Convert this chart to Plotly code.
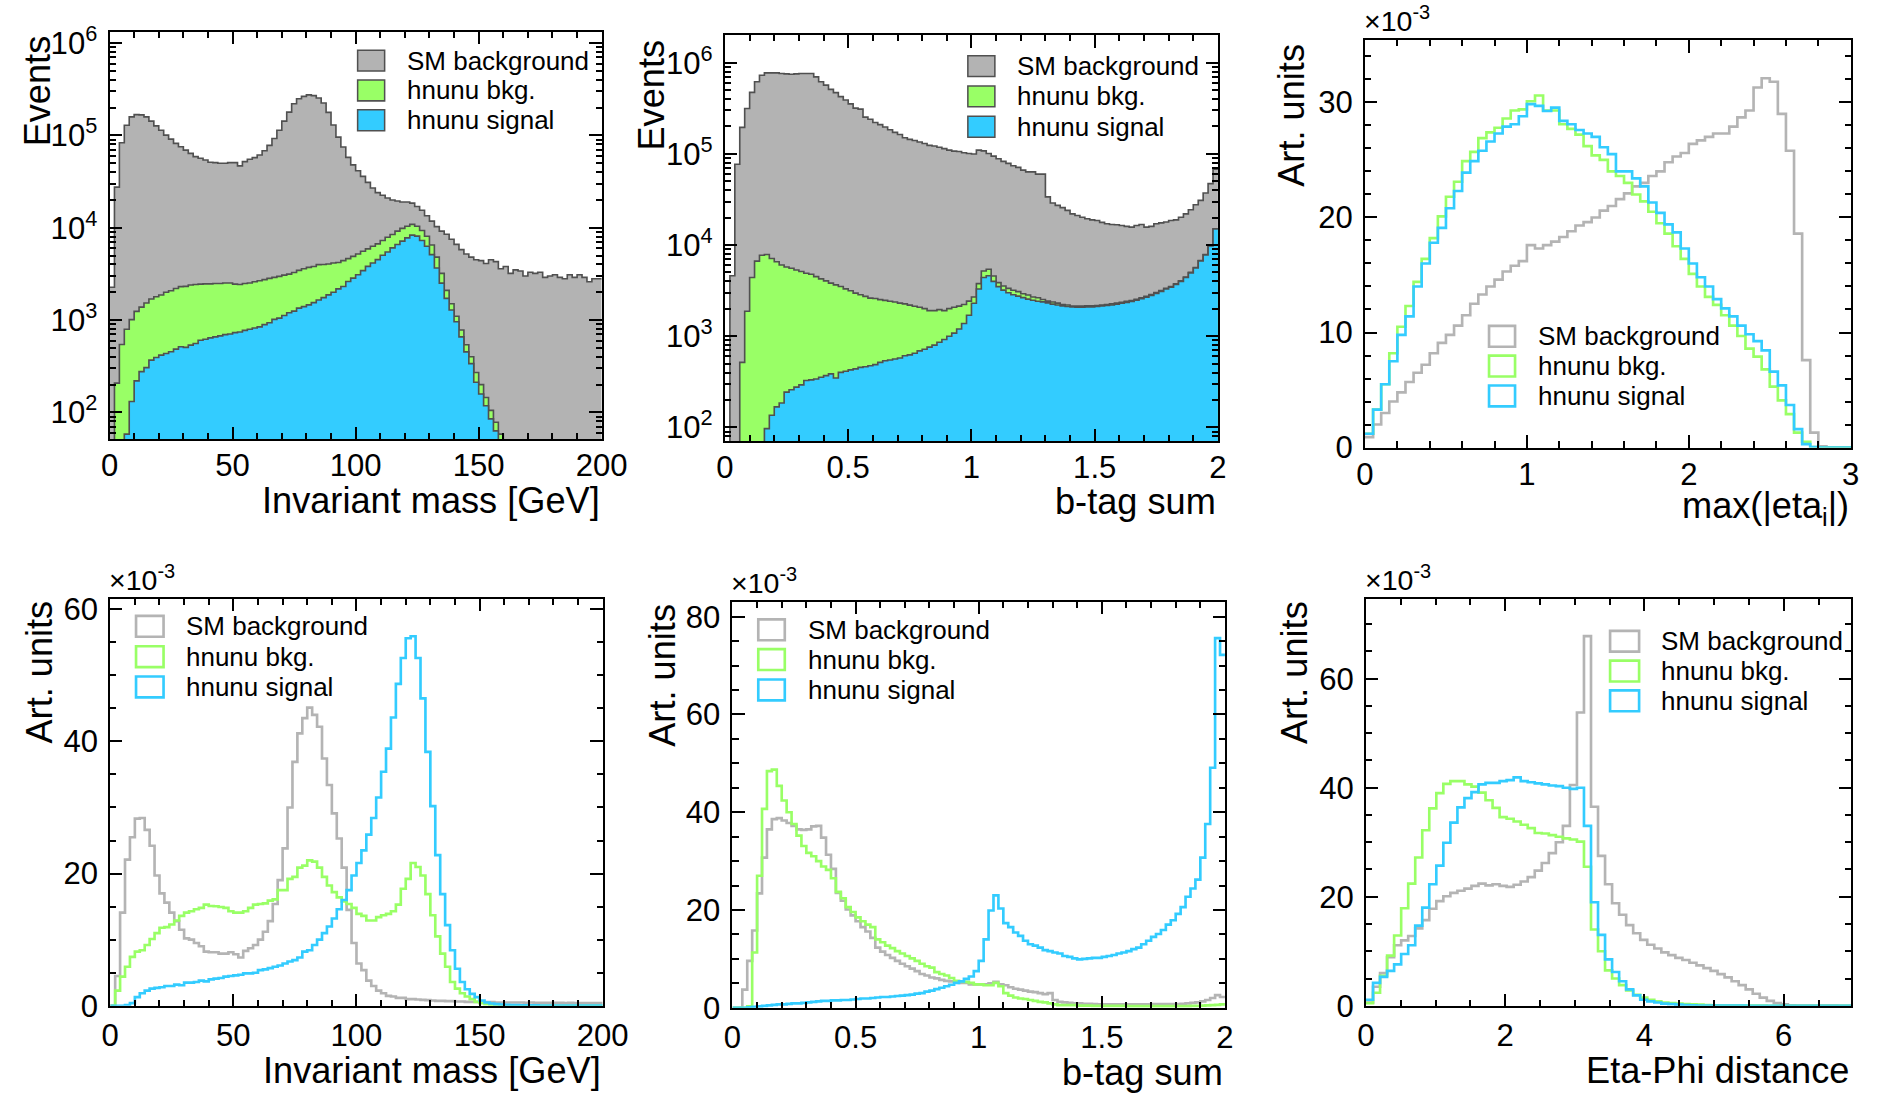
import numpy as np
import plotly.graph_objects as go

W, H = 1878, 1095
FONT = "Liberation Sans, Arial, Helvetica, sans-serif"

# ------------------------------------------------------------------ data
series_names = ["SM background", "hnunu bkg.", "hnunu signal"]

# Panel 1: stacked event counts vs invariant mass (100 bins, 0-200 GeV)
mass_range = (0, 200)
mass_stack_total = [2270, 27600, 83400, 129000, 159000, 168000, 167000, 159000, 143000, 127000,
                    114000, 101000, 91400, 82100, 75500, 69500, 64000, 59000, 56600, 54300,
                    51300, 50800, 50000, 50000, 50800, 50800, 46800, 52100, 55200, 57500,
                    61500, 68400, 78000, 92800, 114000, 143000, 179000, 221000, 250000, 265000,
                    275000, 270000, 255000, 225000, 178000, 130000, 96000, 75000, 58000, 48000,
                    41500, 36000, 31000, 27000, 24000, 22500, 21000, 20000, 19500, 19000,
                    19000, 18500, 17000, 15500, 13500, 11800, 10300, 9200, 8500, 7500,
                    6600, 5800, 5200, 4800, 4500, 4400, 4100, 4500, 4300, 3600,
                    3800, 3200, 3500, 3400, 3000, 3300, 3200, 3300, 2900, 3000,
                    3100, 2900, 2800, 3100, 2900, 3100, 2900, 2600, 2800, 2800]
mass_stack_hnunu = [0, 207, 543, 795, 1010, 1240, 1380, 1530, 1690, 1790,
                    1870, 2000, 2080, 2200, 2300, 2320, 2400, 2430, 2450, 2470,
                    2470, 2490, 2490, 2520, 2520, 2450, 2430, 2490, 2520, 2600,
                    2670, 2740, 2830, 2900, 2970, 3070, 3150, 3280, 3450, 3600,
                    3720, 3800, 3990, 4000, 4050, 4150, 4200, 4400, 4630, 4900,
                    5200, 5560, 5900, 6300, 6700, 7280, 7900, 8450, 9200, 9840,
                    10400, 10900, 10400, 9340, 8100, 6500, 4800, 3200, 2100, 1500,
                    1100, 780, 540, 400, 270, 200, 145, 105, 78, 58,
                    0, 0, 0, 0, 0, 0, 0, 0, 0, 0,
                    0, 0, 0, 0, 0, 0, 0, 0, 0, 0]
mass_stack_signal = [0, 0, 0, 58, 131, 219, 276, 305, 368, 393,
                     417, 434, 453, 484, 513, 505, 535, 557, 604, 620,
                     641, 657, 673, 696, 706, 731, 742, 774, 795, 820,
                     843, 891, 936, 1016, 1050, 1122, 1200, 1250, 1345, 1400,
                     1460, 1545, 1650, 1750, 1875, 2000, 2180, 2310, 2620, 2850,
                     3100, 3430, 3820, 4150, 4520, 5040, 5470, 6060, 6580, 7160,
                     7780, 8320, 8110, 7280, 6310, 5120, 3660, 2510, 1720, 1285,
                     960, 658, 452, 337, 212, 158, 118, 85, 63, 0,
                     0, 0, 0, 0, 0, 0, 0, 0, 0, 0,
                     0, 0, 0, 0, 0, 0, 0, 0, 0, 0]

# Panel 2: stacked event counts vs b-tag sum (100 bins, 0-2)
btag_range = (0, 2)
btag_stack_total = [0, 4600, 77000, 195000, 314000, 472000, 617000, 728000, 772000, 772000,
                    772000, 760000, 753000, 747000, 753000, 760000, 760000, 760000, 698000, 617000,
                    568000, 509000, 469000, 424000, 390000, 353000, 317000, 309000, 253000, 240000,
                    221000, 209000, 197000, 184000, 172000, 163000, 150000, 144000, 140000, 135000,
                    130000, 124000, 122000, 118000, 114000, 110000, 107000, 106000, 103000, 101000,
                    99600, 110000, 108000, 101000, 94600, 88500, 82700, 78600, 74000, 71000,
                    66300, 63500, 63500, 59900, 59900, 33700, 28900, 27200, 25700, 24000,
                    22000, 21100, 20200, 19400, 18900, 18600, 17700, 17100, 16800, 16700,
                    16400, 16000, 15700, 16400, 16800, 15700, 16000, 17100, 17500, 17900,
                    18600, 18900, 20200, 22000, 24400, 27700, 30900, 37200, 47200, 67900]
btag_stack_hnunu = [0, 0, 0, 516, 1880, 4400, 6670, 7740, 7880, 7130,
                    6560, 6040, 5740, 5560, 5330, 5120, 4900, 4780, 4510, 4260,
                    4050, 3820, 3660, 3510, 3310, 3150, 2970, 2850, 2740, 2620,
                    2590, 2520, 2470, 2420, 2370, 2310, 2260, 2190, 2130, 2080,
                    2010, 1910, 1910, 1960, 1910, 2010, 2080, 2140, 2230, 2430,
                    2690, 3770, 5200, 5430, 4580, 3870, 3550, 3350, 3190, 3080,
                    2920, 2830, 2690, 2640, 2530, 2430, 2370, 2310, 2230, 2200,
                    2140, 2140, 2140, 2150, 2150, 2170, 2200, 2230, 2260, 2310,
                    2360, 2410, 2460, 2540, 2640, 2740, 2860, 3010, 3160, 3360,
                    3510, 3760, 4060, 4460, 5010, 5660, 6760, 7860, 9860, 15100]
btag_stack_signal = [0, 0, 0, 0, 0, 0, 0, 0, 97, 136,
                     168, 185, 244, 259, 277, 293, 327, 332, 340, 355,
                     370, 386, 348, 402, 413, 427, 438, 456, 463, 475,
                     488, 517, 539, 549, 562, 577, 610, 625, 650, 690,
                     720, 760, 800, 860, 920, 1000, 1080, 1200, 1380, 1700,
                     2300, 3300, 4400, 4600, 4000, 3500, 3200, 3000, 2850, 2750,
                     2650, 2550, 2480, 2420, 2380, 2320, 2250, 2200, 2150, 2120,
                     2100, 2080, 2080, 2100, 2100, 2120, 2150, 2180, 2200, 2250,
                     2300, 2350, 2400, 2480, 2580, 2680, 2800, 2950, 3100, 3300,
                     3450, 3700, 4000, 4400, 4950, 5600, 6700, 7800, 9800, 15000]

# Panel 3: normalised max(|eta_i|) (x1e-3), 61 bins of 0.05
eta_range = (0, 3.05)
eta_sm = [0.9, 2.0, 3.0, 4.0, 4.8, 5.7, 6.5, 7.2, 8.2, 9.1,
          9.8, 10.6, 11.5, 12.5, 13.3, 14.0, 14.6, 15.3, 15.8, 16.2,
          17.6, 17.3, 17.6, 17.9, 18.3, 18.8, 19.3, 19.6, 20.0, 20.6,
          21.0, 21.6, 22.1, 22.7, 23.0, 23.6, 24.0, 24.8, 25.3, 25.6,
          26.4, 26.7, 27.0, 27.3, 27.3, 27.9, 28.7, 29.3, 31.3, 32.1,
          31.8, 29.0, 25.8, 18.6, 7.6, 1.3, 0.1, 0, 0, 0, 0]
eta_bkg = [1.2, 3.3, 5.5, 8.2, 10.5, 12.3, 14.4, 16.4, 18.2, 20.1,
           21.8, 23.1, 24.9, 25.7, 26.9, 27.4, 27.8, 28.6, 29.3, 29.4,
           30.1, 30.6, 29.3, 29.3, 28.1, 27.7, 27.2, 26.2, 25.4, 25.0,
           24.0, 23.6, 23.0, 22.0, 21.4, 20.5, 19.5, 18.6, 17.5, 16.4,
           15.1, 14.0, 13.1, 12.4, 11.5, 10.6, 9.7, 8.6, 7.9, 6.8,
           5.3, 4.1, 2.9, 1.3, 0.5, 0.05, 0, 0, 0, 0, 0]
eta_sig = [1.2, 3.3, 5.5, 7.5, 9.8, 11.4, 14.0, 16.0, 17.8, 19.1,
           20.8, 22.3, 23.9, 24.9, 25.8, 26.6, 27.3, 27.9, 28.1, 28.8,
           29.85, 29.7, 29.25, 29.55, 28.4, 28.1, 27.6, 27.3, 27.0, 26.1,
           25.5, 24.0, 24.0, 23.4, 22.7, 21.3, 20.4, 19.4, 18.7, 17.3,
           16.0, 14.8, 14.0, 12.9, 12.1, 11.4, 10.6, 9.85, 9.25, 8.45,
           6.6, 5.4, 3.7, 1.6, 0.3, 0.05, 0, 0, 0, 0, 0]

# Panel 4: normalised invariant mass (x1e-3), 100 bins 0-200 GeV
mass_sm = [0, 4.5, 14.1, 22.1, 25.5, 28.3, 28.4, 26.6, 24.2, 19.7,
           17.0, 15.6, 14.1, 12.8, 11.5, 10.2, 10.0, 9.5, 9.0, 8.2,
           8.1, 8.1, 7.9, 7.9, 8.1, 7.8, 7.3, 8.3, 8.7, 9.2,
           10.0, 11.2, 12.8, 15.4, 19.0, 23.8, 30.0, 36.9, 41.2, 43.5,
           45.1, 44.0, 42.2, 37.4, 33.4, 29.1, 25.3, 20.9, 14.5, 9.5,
           6.4, 5.4, 3.8, 3.0, 2.3, 1.9, 1.5, 1.4, 1.2, 1.2,
           1.0, 1.0, 0.95, 0.9, 0.85, 0.8, 0.75, 0.75, 0.7, 0.7,
           0.65, 0.65, 0.6, 0.6, 0.6, 0.55, 0.55, 0.55, 0.5, 0.5,
           0.5, 0.5, 0.5, 0.5, 0.45, 0.5, 0.45, 0.45, 0.45, 0.45,
           0.45, 0.45, 0.4, 0.45, 0.4, 0.4, 0.4, 0.4, 0.4, 0.4]
mass_bkg = [0, 2.3, 4.4, 5.9, 7.4, 8.2, 8.4, 9.2, 10.1, 11.0,
            11.8, 11.9, 12.3, 12.9, 13.6, 14.1, 14.3, 14.6, 14.8, 15.3,
            15.1, 15.05, 14.95, 14.8, 14.3, 14.1, 14.1, 14.3, 14.8, 15.3,
            15.4, 15.5, 15.9, 16.1, 17.5, 17.5, 19.2, 19.5, 20.9, 21.2,
            22.0, 21.8, 20.9, 19.5, 18.2, 17.2, 16.4, 15.8, 15.4, 14.8,
            13.9, 13.6, 12.9, 12.9, 13.4, 13.7, 13.9, 14.3, 15.3, 17.7,
            19.2, 21.6, 21.0, 19.7, 16.9, 13.7, 10.5, 7.9, 5.9, 3.6,
            2.6, 1.9, 1.4, 1.0, 0.6, 0.4, 0.25, 0.15, 0.1, 0.05,
            0, 0, 0, 0, 0, 0, 0, 0, 0, 0,
            0, 0, 0, 0, 0, 0, 0, 0, 0, 0]
mass_sig = [0, 0, 0, 0.1, 0.4, 1.3, 1.9, 2.3, 2.6, 2.7,
            2.8, 3.0, 3.0, 3.2, 3.1, 3.5, 3.5, 3.6, 3.8, 3.7,
            4.0, 4.1, 4.2, 4.4, 4.5, 4.6, 4.7, 4.9, 4.9, 5.0,
            5.4, 5.5, 5.7, 5.9, 6.1, 6.4, 6.7, 6.9, 7.3, 8.2,
            8.4, 9.2, 10.0, 11.0, 12.0, 13.2, 14.6, 16.0, 17.5, 19.7,
            21.6, 23.5, 25.9, 28.4, 31.5, 35.4, 38.9, 43.6, 48.7, 52.6,
            55.6, 55.9, 52.6, 46.5, 38.4, 30.2, 22.8, 16.9, 12.2, 8.4,
            5.6, 3.6, 2.5, 1.8, 1.3, 0.8, 0.5, 0.35, 0.25, 0.2,
            0.15, 0.1, 0.1, 0.08, 0.08, 0.06, 0.06, 0.05, 0.05, 0.05,
            0.04, 0.04, 0.04, 0.03, 0.03, 0.03, 0.03, 0.02, 0.02, 0.02]

# Panel 5: normalised b-tag sum (x1e-3), 100 bins 0-2
btag_sm = [0, 0, 3.7, 9.6, 15.8, 23.4, 30.7, 36.5, 38.6, 38.8,
           38.3, 37.8, 37.2, 36.5, 36.4, 36.5, 37.1, 37.2, 34.8, 31.3,
           28.4, 23.5, 21.9, 20.1, 18.9, 17.7, 16.5, 15.6, 14.3, 12.3,
           11.5, 10.8, 10.2, 9.6, 9.0, 8.5, 8.0, 7.5, 6.9, 6.6,
           6.2, 6.0, 5.7, 5.5, 5.4, 5.3, 5.1, 5.1, 4.8, 4.8,
           4.8, 4.8, 5.0, 5.3, 4.8, 4.6, 4.2, 3.9, 3.7, 3.5,
           3.3, 3.2, 3.0, 2.8, 3.0, 1.6, 1.2, 1.1, 1.0, 0.9,
           0.9, 0.8, 0.8, 0.75, 0.7, 0.7, 0.7, 0.7, 0.7, 0.7,
           0.7, 0.7, 0.7, 0.7, 0.7, 0.75, 0.75, 0.75, 0.75, 0.75,
           0.75, 0.8, 0.9, 1.0, 1.1, 1.3, 1.6, 2.0, 2.6, 2.2]
btag_bkg = [0, 0, 0, 0.3, 11.3, 27.0, 40.7, 48.4, 48.7, 45.4,
            42.4, 40.0, 37.6, 35.2, 33.1, 31.7, 31.0, 30.0, 28.9, 28.2,
            26.5, 23.7, 22.4, 20.6, 19.6, 18.5, 17.7, 17.0, 16.5, 14.0,
            13.4, 12.7, 12.2, 11.6, 11.1, 10.6, 10.1, 9.6, 9.0, 8.5,
            8.2, 7.3, 6.9, 6.6, 6.1, 5.5, 5.4, 5.3, 5.1, 4.8,
            4.8, 4.6, 4.6, 5.1, 4.4, 3.0, 2.5, 2.1, 1.9, 1.8,
            1.6, 1.4, 1.2, 1.1, 0.9, 0.7, 0.55, 0.55, 0.55, 0.55,
            0.45, 0.45, 0.45, 0.4, 0.4, 0.4, 0.4, 0.4, 0.4, 0.4,
            0.35, 0.35, 0.35, 0.35, 0.35, 0.35, 0.35, 0.35, 0.35, 0.35,
            0.35, 0.35, 0.35, 0.4, 0.4, 0.45, 0.5, 0.55, 0.6, 0.7]
btag_sig = [0, 0, 0, 0.1, 0.2, 0.3, 0.4, 0.5, 0.6, 0.7,
            0.7, 0.8, 0.9, 0.9, 1.0, 1.1, 1.2, 1.3, 1.4, 1.4,
            1.5, 1.5, 1.6, 1.6, 1.7, 1.8, 1.9, 1.9, 2.0, 2.1,
            2.2, 2.2, 2.3, 2.4, 2.5, 2.6, 2.7, 2.9, 3.0, 3.3,
            3.5, 3.8, 4.1, 4.4, 4.7, 5.1, 5.4, 5.9, 6.4, 7.5,
            9.6, 14.0, 19.9, 23.0, 20.3, 17.3, 16.5, 15.4, 14.7, 13.7,
            13.0, 12.7, 12.3, 11.8, 11.6, 11.3, 11.1, 10.6, 10.4, 10.1,
            9.9, 10.0, 10.1, 10.2, 10.2, 10.4, 10.6, 10.8, 11.1, 11.3,
            11.6, 12.0, 12.3, 13.0, 13.7, 14.5, 15.1, 15.9, 17.0, 17.9,
            19.2, 20.6, 22.7, 24.4, 26.2, 30.7, 37.6, 49.1, 75.6, 72.2]

# Panel 6: normalised eta-phi distance (x1e-3), 70 bins 0-7.07
dr_range = (0, 7.07)
dr_sm = [0.6, 3.5, 6.0, 8.9, 11.1, 12.0, 12.8, 14.2, 15.7, 17.8,
         19.2, 20.1, 20.7, 21.1, 21.5, 22.0, 22.4, 22.1, 22.3, 22.0,
         21.8, 22.2, 22.8, 23.6, 24.8, 26.2, 28.0, 30.0, 33.0, 40.5,
         53.8, 67.8, 36.5, 27.5, 22.3, 18.8, 16.7, 14.8, 13.3, 12.1,
         11.2, 10.5, 9.8, 9.3, 8.8, 8.4, 7.9, 7.4, 6.9, 6.4,
         5.8, 5.2, 4.5, 3.8, 3.0, 2.2, 1.5, 0.9, 0.5, 0.25,
         0.1, 0.05, 0.05, 0.03, 0.03, 0.02, 0.02, 0.01, 0.01, 0.01]
dr_bkg = [0.5, 2.4, 5.5, 9.2, 12.9, 17.9, 22.4, 27.2, 32.2, 36.2,
          39.0, 40.7, 41.2, 41.2, 40.6, 40.2, 39.1, 37.7, 36.3, 34.6,
          34.3, 33.8, 33.2, 32.6, 31.7, 31.6, 31.3, 31.0, 30.7, 30.5,
          30.1, 25.5, 14.0, 10.0, 6.5, 5.0, 3.8, 2.8, 2.0, 1.5,
          1.1, 0.8, 0.6, 0.5, 0.4, 0.3, 0.25, 0.2, 0.15, 0.1,
          0.05, 0.05, 0.04, 0.03, 0.03, 0.02, 0.02, 0.01, 0.01, 0.01,
          0, 0, 0, 0, 0, 0, 0, 0, 0, 0]
dr_sig = [1.1, 4.2, 5.3, 6.4, 7.6, 9.5, 11.1, 14.7, 18.0, 22.3,
          25.7, 29.9, 33.6, 36.4, 38.1, 39.2, 40.6, 40.9, 40.9, 41.2,
          41.4, 41.9, 41.2, 41.0, 40.8, 40.6, 40.4, 40.3, 40.0, 39.8,
          40.0, 33.0, 19.0, 13.0, 8.5, 6.2, 4.5, 3.0, 1.9, 1.1,
          0.8, 0.6, 0.4, 0.3, 0.2, 0.15, 0.1, 0.05, 0.05, 0.04,
          0.03, 0.03, 0.02, 0.02, 0.01, 0.01, 0.01, 0.01, 0, 0,
          0, 0, 0, 0, 0, 0, 0, 0, 0, 0]

# ------------------------------------------------------------------ style
FILL = {"SM background": "#b3b3b3", "hnunu bkg.": "#99ff66", "hnunu signal": "#33ccff"}
LINE = {"SM background": "#b4b4b4", "hnunu bkg.": "#99ff66", "hnunu signal": "#33ccff"}
OUTLINE = "#505050"

# The captured page appears offset by ~7.5 px and scaled by ~0.981; the layout
# positions below are target picture pixels, converted through this mapping.
OFF, SCL = 7.5, 0.981


def L(v, limit):
    return min(max((v - OFF) / SCL, 0.0), limit - 1.0)


def S(v):
    return v / SCL


def achieved(v, limit):
    return OFF + SCL * L(v, limit)


# panel frames in target pixels: left, right, top, bottom
FRAMES = {
    1: (108.0, 600.0, 29.3, 439.5),
    2: (723.2, 1216.0, 33.0, 441.5),
    3: (1363.0, 1855.0, 38.0, 448.0),
    4: (108.7, 601.0, 600.0, 1010.0),
    5: (730.7, 1223.0, 603.0, 1012.0),
    6: (1364.0, 1856.0, 600.0, 1010.0),
}


def px_x(v):
    return L(v, W) / W


def px_y(v):
    return 1 - L(v, H) / H


def step_xy(values, rng):
    edges = np.linspace(rng[0], rng[1], len(values) + 1)
    y = list(values) + [values[-1]]
    return edges, y


fig = go.Figure()


def add_stacked(panel, rng, stacks):
    xa = "x" if panel == 1 else f"x{panel}"
    ya = "y" if panel == 1 else f"y{panel}"
    for name, vals in stacks:
        x, y = step_xy(vals, rng)
        y = np.clip(np.array(y, dtype=float), 1.0, None)
        fig.add_trace(go.Scatter(x=x, y=y, mode="lines", line_shape="hv",
                                 line=dict(color=OUTLINE, width=S(1.6)),
                                 fill="tozeroy", fillcolor=FILL[name],
                                 xaxis=xa, yaxis=ya, showlegend=False, name=name,
                                 hoverinfo="skip"))


def add_lines(panel, rng, series):
    xa = f"x{panel}"
    ya = f"y{panel}"
    for name, vals in series:
        x, y = step_xy(vals, rng)
        fig.add_trace(go.Scatter(x=x, y=y, mode="lines", line_shape="hv",
                                 line=dict(color=LINE[name], width=S(2.6)),
                                 xaxis=xa, yaxis=ya, showlegend=False, name=name,
                                 hoverinfo="skip"))


add_stacked(1, mass_range, [("SM background", mass_stack_total),
                            ("hnunu bkg.", mass_stack_hnunu),
                            ("hnunu signal", mass_stack_signal)])
add_stacked(2, btag_range, [("SM background", btag_stack_total),
                            ("hnunu bkg.", btag_stack_hnunu),
                            ("hnunu signal", btag_stack_signal)])
add_lines(3, eta_range, [("SM background", eta_sm), ("hnunu bkg.", eta_bkg), ("hnunu signal", eta_sig)])
add_lines(4, mass_range, [("SM background", mass_sm), ("hnunu bkg.", mass_bkg), ("hnunu signal", mass_sig)])
add_lines(5, btag_range, [("SM background", btag_sm), ("hnunu bkg.", btag_bkg), ("hnunu signal", btag_sig)])
add_lines(6, dr_range, [("SM background", dr_sm), ("hnunu bkg.", dr_bkg), ("hnunu signal", dr_sig)])

# ------------------------------------------------------------------ axes
TICKFONT = dict(family=FONT, size=S(30.5), color="black")


def base_axis(panel, is_x):
    l, r, t, b = FRAMES[panel]
    d = dict(showline=True, linecolor="black", linewidth=S(2), mirror="allticks",
             ticks="inside", ticklen=S(12), tickwidth=S(1.5), tickcolor="black",
             showgrid=False, zeroline=False, tickfont=TICKFONT, fixedrange=True)
    if is_x:
        d["domain"] = [px_x(l), px_x(r)]
        d["anchor"] = "y" if panel == 1 else f"y{panel}"
        d["ticklabelstandoff"] = -2 if panel <= 3 else 1
    else:
        d["domain"] = [px_y(b), px_y(t)]
        d["anchor"] = "x" if panel == 1 else f"x{panel}"
        d["ticklabelstandoff"] = 4
    return d


def minor(dtick=None, tickvals=None):
    m = dict(ticks="inside", ticklen=S(6), tickwidth=S(1.5), tickcolor="black", showgrid=False)
    if tickvals is not None:
        m["tickmode"] = "array"
        m["tickvals"] = tickvals
    else:
        m["dtick"] = dtick
    return m


log_major = [1e2, 1e3, 1e4, 1e5, 1e6]
log_text = ["10<sup>2</sup>", "10<sup>3</sup>", "10<sup>4</sup>", "10<sup>5</sup>", "10<sup>6</sup>"]
log_minor = [m * 10 ** e for e in range(1, 7) for m in range(2, 10)]

x_specs = {
    1: dict(range=[0, 200], dtick=50, minor=10),
    2: dict(range=[0, 2], dtick=0.5, minor=0.1),
    3: dict(range=[0, 3.04], dtick=1, minor=0.2),
    4: dict(range=[0, 200], dtick=50, minor=10),
    5: dict(range=[0, 2], dtick=0.5, minor=0.1),
    6: dict(range=[0, 7.07], dtick=2, minor=0.5),
}
y_specs = {
    3: dict(range=[0, 35.4], dtick=10, minor=2),
    4: dict(range=[0, 61.6], dtick=20, minor=5),
    5: dict(range=[0, 83.1], dtick=20, minor=5),
    6: dict(range=[0, 74.7], dtick=20, minor=5),
}

layout_axes = {}
for p in range(1, 7):
    xs = x_specs[p]
    l, r, t, b = FRAMES[p]
    # keep the data scale right if the frame's right edge had to be clipped
    frac = (achieved(r, W) - l) / (r - l)
    xr = [xs["range"][0], xs["range"][0] + (xs["range"][1] - xs["range"][0]) * frac]
    xd = base_axis(p, True)
    xd.update(range=xr, tick0=0, dtick=xs["dtick"], minor=minor(dtick=xs["minor"]))
    layout_axes["xaxis" if p == 1 else f"xaxis{p}"] = xd
    yd = base_axis(p, False)
    if p in (1, 2):
        yd.update(type="log", range=[1.71, 6.125] if p == 1 else [1.85, 6.30],
                  tickmode="array", tickvals=log_major, ticktext=log_text,
                  minor=minor(tickvals=log_minor))
    else:
        ys = y_specs[p]
        yd.update(range=ys["range"], tick0=0, dtick=ys["dtick"], minor=minor(dtick=ys["minor"]))
    layout_axes["yaxis" if p == 1 else f"yaxis{p}"] = yd

# ------------------------------------------------------------------ texts & legends
annotations = []
shapes = []


def ann(text, x, y, xanchor, yanchor, size=35.5, angle=0):
    annotations.append(dict(text=text, x=px_x(x), y=px_y(y), xref="paper", yref="paper",
                            xanchor=xanchor, yanchor=yanchor, showarrow=False, textangle=angle,
                            font=dict(family=FONT, size=S(size), color="black")))


# x titles (right aligned to frame)
ann("Invariant mass [GeV]", 600, 501, "right", "middle")
ann("b-tag sum", 1216, 502, "right", "middle")
ann("max(|eta<sub>i</sub>|)", 1856, 484, "right", "top")
ann("Invariant mass [GeV]", 601, 1075, "right", "middle")
ann("b-tag sum", 1223, 1077, "right", "middle")
ann("Eta-Phi distance", 1856, 1075, "right", "middle")

# y titles (rotated, aligned to frame top)
ann("Events", 36, 31, "center", "top", angle=-90)
ann("Events", 650, 35, "center", "top", angle=-90)
ann("Art. units", 1290, 39, "center", "top", angle=-90)
ann("Art. units", 38, 600, "center", "top", angle=-90)
ann("Art. units", 660, 603, "center", "top", angle=-90)
ann("Art. units", 1292, 600, "center", "top", angle=-90)

# x10^-3 multipliers
for p in (3, 4, 5, 6):
    l, r, t, b = FRAMES[p]
    ann("\u00d710<sup>-3</sup>", l - 3, t - 1, "left", "bottom", size=28)

# legends
LEG = {
    1: (356, 383, 403, [58.5, 88.5, 118.5], "fill"),
    2: (966, 993, 1013, [64, 94.5, 125], "fill"),
    3: (1487, 1513, 1534, [336, 366, 396], "line"),
    4: (134.5, 162, 182, [628, 658.5, 689], "line"),
    5: (756.5, 783, 804, [631.5, 661.5, 692], "line"),
    6: (1608, 1637, 1657, [643, 673, 703], "line"),
}
for p, (bx0, bx1, tx, ys, kind) in LEG.items():
    for name, yc in zip(series_names, ys):
        if kind == "fill":
            shapes.append(dict(type="rect", xref="paper", yref="paper",
                               x0=px_x(bx0), x1=px_x(bx1), y0=px_y(yc + 10.5), y1=px_y(yc - 10.5),
                               fillcolor=FILL[name], line=dict(color=OUTLINE, width=S(1.5))))
        else:
            shapes.append(dict(type="rect", xref="paper", yref="paper",
                               x0=px_x(bx0), x1=px_x(bx1), y0=px_y(yc + 10.5), y1=px_y(yc - 10.5),
                               fillcolor="rgba(0,0,0,0)", line=dict(color=LINE[name], width=S(2.6))))
        ann(name, tx, yc, "left", "middle", size=25.5)

fig.update_layout(
    width=W, height=H,
    margin=dict(l=0, r=0, t=0, b=0),
    paper_bgcolor="white", plot_bgcolor="white",
    showlegend=False,
    annotations=annotations, shapes=shapes,
    **layout_axes,
)

fig.write_html("out.html", include_plotlyjs=True, config={"displayModeBar": False})
